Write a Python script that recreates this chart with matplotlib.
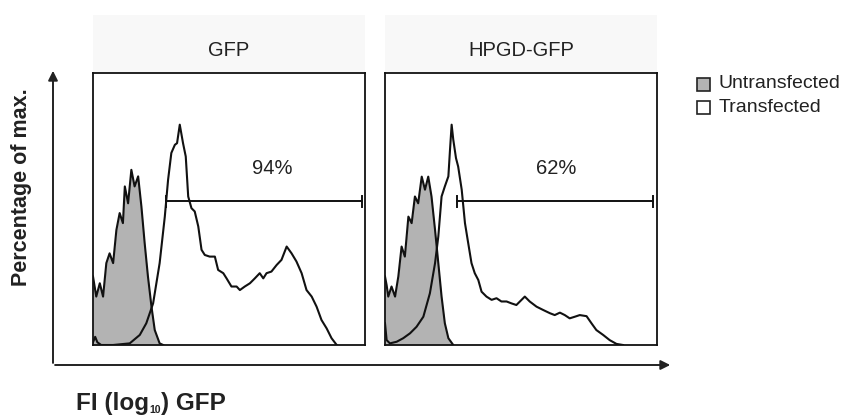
import matplotlib
matplotlib.use("Agg")
import matplotlib.pyplot as plt
from matplotlib.patches import Rectangle, FancyArrowPatch

plt.rcParams['font.family'] = ['Liberation Sans', 'DejaVu Sans']

# ---------------- data ----------------
panel_titles = ["GFP", "HPGD-GFP"]
gate_labels = ["94%", "62%"]
series_labels = ["Untransfected", "Transfected"]
x_label_parts = ["FI (log", "10", ") GFP"]
y_label = "Percentage of max."

# panel 1 (GFP) - untransfected
p1_untr_x = [0, 1.2, 2.5, 3.7, 4.9, 6.1, 7.4, 8.6, 9.8, 11.0, 11.7, 12.9, 14.1, 15.3,
             16.6, 17.8, 19.0, 20.2, 21.5, 22.7, 24.5, 25.8]
p1_untr_y = [25.2, 17.8, 22.7, 17.8, 30.1, 33.7, 30.1, 42.3, 48.5, 44.8, 58.3, 52.1, 64.4,
             58.3, 62.0, 50.9, 37.4, 25.2, 14.1, 5.5, 0.6, 0]
# panel 1 (GFP) - transfected
p1_tr_x = [0, 0.8, 1.6, 3.0, 7.4, 13.5, 17.2, 19.6, 22.1, 24.5, 26.4, 27.6, 28.8, 30.1, 30.9,
           31.9, 33.1, 34.1, 35.0, 36.2, 37.4, 38.7, 39.9, 41.1, 42.9, 44.8, 46.0, 47.9,
           49.1, 50.9, 52.8, 54.0, 55.8, 57.7, 59.5, 61.3, 62.6, 63.8, 65.6, 67.5, 69.3,
           71.2, 73.0, 74.8, 76.7, 78.5, 80.4, 82.2, 84.0, 85.9, 87.7, 89.6]
p1_tr_y = [1.0, 3.0, 1.0, 0, 0, 0.6, 3.7, 8.0, 15.3, 30.1, 47.2, 60.7, 70.6, 73.6, 74.2,
           81.0, 74.2, 69.3, 54.6, 50.3, 49.1, 43.6, 35.0, 33.1, 32.5, 32.5, 27.6, 26.4,
           24.5, 21.5, 21.5, 20.2, 21.5, 22.7, 24.5, 26.4, 24.5, 26.4, 27.0, 29.4, 31.3,
           36.2, 33.7, 30.7, 26.4, 20.2, 17.8, 14.1, 9.2, 6.1, 2.5, 0]

# panel 2 (HPGD-GFP) - untransfected
p2_untr_x = [0, 0.6, 1.2, 2.4, 3.7, 4.9, 6.1, 7.3, 8.6, 9.8, 11.0, 12.2, 13.5, 14.7, 15.9,
             17.1, 18.4, 19.6, 20.8, 22.0, 23.3, 25.1]
p2_untr_y = [25.2, 22.0, 17.8, 21.5, 17.8, 25.2, 36.2, 32.5, 47.2, 44.8, 54.6, 52.1, 61.9,
             57.1, 61.9, 54.6, 42.3, 30.1, 17.8, 8.0, 2.5, 0]
# panel 2 (HPGD-GFP) - transfected
p2_tr_x = [0, 0.6, 1.8, 4.3, 6.7, 9.2, 11.6, 14.1, 16.5, 18.4, 19.6, 20.8, 22.0, 23.3, 23.9,
           24.5, 25.1, 26.1, 26.9, 28.2, 29.4, 30.6, 31.8, 33.0, 34.3, 35.5, 37.3, 39.2,
           41.0, 42.8, 44.7, 46.5, 48.3, 50.2, 51.4, 53.2, 55.7, 58.1, 60.6, 62.4, 64.3,
           66.1, 67.9, 69.8, 71.6, 74.1, 75.9, 77.7, 80.2, 82.6, 85.1, 87.5]
p2_tr_y = [8.0, 1.8, 0.6, 1.2, 2.5, 4.3, 6.7, 10.4, 19.0, 30.1, 39.9, 54.6, 58.3, 62.0, 71.8,
           81.0, 75.5, 68.7, 65.6, 57.1, 44.8, 37.4, 30.1, 26.4, 23.9, 19.6, 17.8, 16.6,
           17.2, 16.0, 16.0, 15.3, 14.7, 16.6, 17.8, 16.0, 14.1, 12.9, 11.7, 11.0, 11.9,
           11.0, 9.8, 10.4, 11.0, 10.6, 8.0, 5.5, 3.7, 1.8, 0.4, 0]

# gates
gate_start = [26.7, 26.6]
gate_end = [98.8, 98.5]
gate_level = [52.8, 52.8]
gate_text_x = [66, 63]

panels = [
    (p1_untr_x, p1_untr_y, p1_tr_x, p1_tr_y),
    (p2_untr_x, p2_untr_y, p2_tr_x, p2_tr_y),
]

# ---------------- figure ----------------
W, H = 853, 416
fig = plt.figure(figsize=(W / 100, H / 100), dpi=100)
fig.patch.set_facecolor('white')

def fx(px):
    return px / W

def fy(py):
    return 1 - py / H

fill_color = '#b3b3b3'
line_color = '#111111'
text_color = '#222222'
panel_lefts = [93, 385]
panel_w = 272
panel_top, panel_bot = 73, 345

for i, (ux, uy, tx, ty) in enumerate(panels):
    left = panel_lefts[i]
    fig.add_artist(Rectangle((fx(left), fy(panel_top)), fx(panel_w), fy(15) - fy(panel_top),
                             transform=fig.transFigure, facecolor='#f8f8f8',
                             edgecolor='none', zorder=0))
    ax = fig.add_axes([fx(left), fy(panel_bot), fx(panel_w), (panel_bot - panel_top) / H])
    ax.set_xlim(0, 100)
    ax.set_ylim(0, 100)
    ax.set_xticks([])
    ax.set_yticks([])
    for s in ax.spines.values():
        s.set_linewidth(1.3)
        s.set_color(line_color)
    ax.fill_between(ux, uy, 0, color=fill_color, zorder=1, linewidth=0)
    ax.plot(ux, uy, color=line_color, lw=1.5, zorder=3)
    ax.plot(tx, ty, color=line_color, lw=1.5, zorder=3)
    ax.plot([gate_start[i], gate_end[i]], [gate_level[i], gate_level[i]],
            color=line_color, lw=1.4, zorder=4)
    for gx in (gate_start[i], gate_end[i]):
        ax.plot([gx, gx], [gate_level[i] - 2, gate_level[i] + 2], color=line_color, lw=1.4,
                zorder=4)
    ax.text(gate_text_x[i], 65, gate_labels[i], ha='center', va='center', fontsize=14.5,
            color=text_color)
    fig.text(fx(left + panel_w / 2), fy(50), panel_titles[i], ha='center', va='center',
             fontsize=14.5, color=text_color)

# axis arrows
ax_x0, ax_y0 = 53, 365
fig.add_artist(FancyArrowPatch((fx(ax_x0), fy(ax_y0 + 0.7)), (fx(ax_x0), fy(68)),
                               transform=fig.transFigure, arrowstyle='-|>',
                               mutation_scale=14, lw=1.4, color=text_color))
fig.add_artist(FancyArrowPatch((fx(ax_x0 - 0.7), fy(ax_y0)), (fx(673), fy(ax_y0)),
                               transform=fig.transFigure, arrowstyle='-|>',
                               mutation_scale=14, lw=1.4, color=text_color))

fig.text(fx(22), fy(187), y_label, rotation=90, ha='center', va='center',
         fontsize=15.5, fontweight='bold', color=text_color)

# x label composed of pieces (tiny subscript)
renderer = fig.canvas.get_renderer()
base = fy(410)
t1 = fig.text(fx(76), base, x_label_parts[0], ha='left', va='baseline',
              fontsize=17.5, fontweight='bold', color=text_color)
bb = t1.get_window_extent(renderer)
t2 = fig.text((bb.x1 + 0.5) / W, (base * H - 3) / H, x_label_parts[1], ha='left',
              va='baseline', fontsize=7.5, fontweight='bold', color=text_color)
bb2 = t2.get_window_extent(renderer)
t3 = fig.text((bb2.x1 + 0.5) / W, base, x_label_parts[2], ha='left', va='baseline',
              fontsize=17.5, fontweight='bold', color=text_color)

# legend
leg_colors = [fill_color, 'white']
for j, lab in enumerate(series_labels):
    cy = 84 + j * 23
    fig.add_artist(Rectangle((fx(697), fy(cy + 6.5)), fx(13), fy(cy - 6.5) - fy(cy + 6.5),
                             transform=fig.transFigure, facecolor=leg_colors[j],
                             edgecolor=text_color, lw=1.2))
    fig.text(fx(719), fy(cy), lab, ha='left', va='center', fontsize=14, color=text_color)

fig.savefig("out.png", dpi=100)
